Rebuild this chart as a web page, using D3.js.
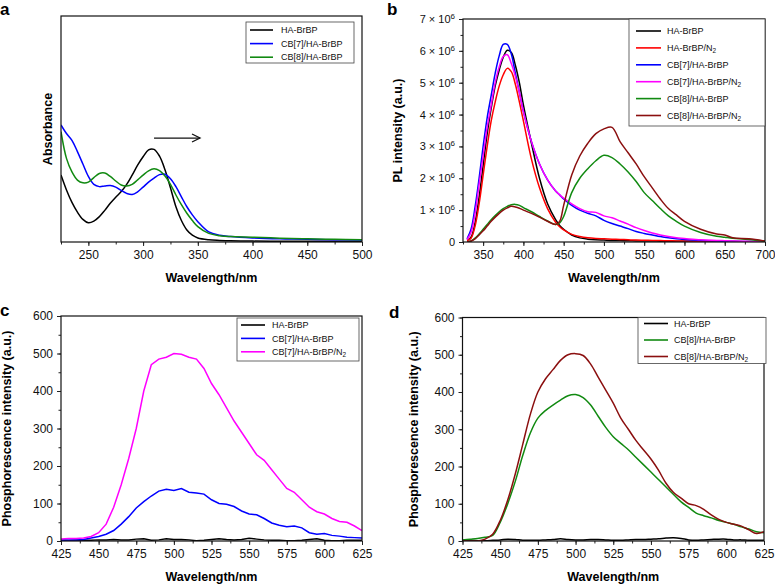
<!DOCTYPE html>
<html><head><meta charset="utf-8">
<script src="https://cdn.jsdelivr.net/npm/d3@7"></script>
<style>
body{margin:0;background:#fff;}
text{font-family:"Liberation Sans",Arial,sans-serif;}
</style></head>
<body><svg id="c" width="775" height="584"></svg>
<script>
// ---------- Panel a: UV-vis absorbance ----------
const aWl = [225,230,235,240,245,250,255,260,265,270,275,280,285,290,295,300,305,310,315,320,325,330,335,340,345,350,360,370,380,400,425,450,475,500];
const aHA = [0.296,0.23,0.175,0.132,0.1,0.085,0.092,0.112,0.14,0.171,0.198,0.223,0.255,0.296,0.34,0.377,0.408,0.41,0.38,0.32,0.24,0.156,0.095,0.053,0.03,0.018,0.01,0.007,0.005,0.004,0.003,0.003,0.003,0.003];
const aCB7 = [0.518,0.48,0.45,0.40,0.345,0.29,0.255,0.245,0.248,0.25,0.243,0.228,0.215,0.21,0.222,0.243,0.265,0.283,0.298,0.3,0.28,0.245,0.2,0.156,0.12,0.09,0.045,0.03,0.024,0.018,0.014,0.012,0.01,0.009];
const aCB8 = [0.488,0.37,0.31,0.274,0.262,0.265,0.285,0.303,0.305,0.29,0.27,0.252,0.248,0.255,0.275,0.296,0.315,0.324,0.316,0.292,0.255,0.208,0.165,0.127,0.095,0.068,0.038,0.028,0.024,0.021,0.017,0.014,0.012,0.01];
const aXTicks = [250,300,350,400,450,500];

// ---------- Panel b: PL intensity (x 10^6) ----------
const bWl = [330,335,340,345,350,355,360,365,370,375,380,385,390,395,400,410,420,430,440,445,450,460,470,480,490,500,510,520,530,540,550,560,570,580,590,600,620,640,650,660,680,700];
const bHA    = [0.05,0.15,0.6,1.4,2.4,3.4,4.2,4.9,5.4,5.8,6.02,5.95,5.55,5.0,4.3,3.1,2.0,1.2,0.7,0.52,0.4,0.22,0.13,0.09,0.07,0.06,0.05,0.045,0.04,0.035,0.03,0.03,0.025,0.025,0.02,0.02,0.015,0.015,0.01,0.01,0.01,0.01];
const bHAN2  = [0.05,0.12,0.5,1.2,2.1,3.0,3.8,4.4,4.9,5.25,5.45,5.35,4.95,4.4,3.8,2.6,1.7,1.05,0.62,0.48,0.38,0.24,0.17,0.13,0.11,0.1,0.09,0.08,0.07,0.06,0.055,0.05,0.045,0.04,0.035,0.03,0.025,0.02,0.02,0.015,0.01,0.01];
const bCB7   = [0.1,0.4,1.1,2.0,3.0,3.9,4.6,5.3,5.85,6.2,6.2,5.9,5.3,4.7,4.1,3.15,2.45,1.95,1.6,1.48,1.35,1.15,1.0,0.9,0.82,0.68,0.58,0.5,0.42,0.33,0.27,0.22,0.17,0.13,0.1,0.08,0.05,0.03,0.025,0.02,0.015,0.01];
const bCB7N2 = [0.08,0.3,0.9,1.8,2.7,3.6,4.3,5.0,5.5,5.82,5.88,5.6,5.2,4.7,4.1,3.15,2.45,1.95,1.6,1.48,1.38,1.2,1.05,0.95,0.93,0.82,0.76,0.66,0.56,0.45,0.36,0.28,0.22,0.17,0.13,0.11,0.07,0.05,0.04,0.03,0.02,0.01];
const bCB8   = [0,0.03,0.12,0.25,0.4,0.55,0.7,0.83,0.95,1.05,1.12,1.17,1.18,1.15,1.08,0.95,0.8,0.66,0.55,0.6,0.8,1.55,2.0,2.3,2.55,2.72,2.65,2.45,2.2,1.9,1.55,1.3,1.05,0.82,0.65,0.5,0.3,0.18,0.15,0.12,0.08,0.02];
const bCB8N2 = [0,0.03,0.1,0.22,0.35,0.5,0.65,0.78,0.9,1.0,1.07,1.12,1.1,1.06,1.0,0.9,0.78,0.65,0.55,0.65,1.15,2.1,2.7,3.1,3.4,3.55,3.6,3.15,2.8,2.45,2.05,1.7,1.35,1.05,0.85,0.65,0.4,0.25,0.22,0.13,0.1,0.03];
const bXTicks = [350,400,450,500,550,600,650,700];
const bYTicks = [0,1,2,3,4,5,6,7];

// ---------- Panel c: phosphorescence, CB[7] ----------
const cWl = [425,430,435,440,445,450,455,460,465,470,475,480,485,490,495,500,505,510,515,520,525,530,535,540,545,550,555,560,565,570,575,580,585,590,595,600,605,610,615,620,625];
const cHA    = [3,1,2,2,2,3,3,4,3,3,5,6,2,3,6,4,4,3,1,2,4,6,4,3,4,7,5,3,2,2,1,1,2,4,6,2,1,1,2,2,2];
const cCB7   = [2,3,3,4,8,12,18,28,45,65,88,105,120,133,138,135,140,130,128,125,110,100,98,92,80,72,70,60,48,42,38,40,35,22,18,20,15,13,10,9,8];
const cCB7N2 = [5,7,7,8,12,22,45,90,150,220,300,400,470,485,490,500,498,490,485,460,420,390,355,320,290,260,230,215,190,165,140,130,110,90,78,72,60,52,50,40,28];
const pXTicks = [425,450,475,500,525,550,575,600,625];
const pYTicks = [0,100,200,300,400,500,600];

// ---------- Panel d: phosphorescence, CB[8] ----------
const dWl = cWl;
const dHA    = [2,2,1,1,2,3,5,4,2,2,2,3,4,6,4,3,3,4,4,3,2,2,3,4,4,5,6,8,9,7,3,2,3,4,5,5,3,3,2,2,2];
const dCB8   = [3,5,7,10,15,50,100,160,230,290,330,350,365,378,390,393,385,365,335,305,280,262,245,225,205,185,165,145,125,105,90,75,68,62,55,50,45,38,32,25,22];
const dCB8N2 = [0,0,0,5,18,55,110,180,260,340,400,435,460,485,500,503,498,475,440,405,370,330,300,270,245,220,190,155,130,115,100,95,85,70,58,50,45,40,30,20,25];

const labelsA = ["HA-BrBP","CB[7]/HA-BrBP","CB[8]/HA-BrBP"];
const labelsB = [["HA-BrBP",""],["HA-BrBP/N","2"],["CB[7]/HA-BrBP",""],["CB[7]/HA-BrBP/N","2"],["CB[8]/HA-BrBP",""],["CB[8]/HA-BrBP/N","2"]];
const labelsC = [["HA-BrBP",""],["CB[7]/HA-BrBP",""],["CB[7]/HA-BrBP/N","2"]];
const labelsD = [["HA-BrBP",""],["CB[8]/HA-BrBP",""],["CB[8]/HA-BrBP/N","2"]];

const COL = {black:"#000000", red:"#ff0000", blue:"#0000ff", magenta:"#ff00ff", green:"#118a11", brown:"#8b0f0f"};

const svg = d3.select("#c");

function panel(o){
  const g = svg.append("g");
  const x = d3.scaleLinear().domain(o.xd).range(o.xr);
  const y = d3.scaleLinear().domain(o.yd).range(o.yr);
  // clip
  const cid = "clip"+o.letter;
  svg.append("clipPath").attr("id",cid).append("rect")
    .attr("x",o.xr[0]).attr("y",o.yr[1]).attr("width",o.xr[1]-o.xr[0]).attr("height",o.yr[0]-o.yr[1]);
  // series
  const line = d3.line().x(d=>x(d[0])).y(d=>y(d[1])).curve(o.curve||d3.curveCatmullRom);
  o.series.forEach(s=>{
    const pts = o.wl.map((w,i)=>[w,s.v[i]]);
    g.append("path").attr("d",line(pts)).attr("fill","none")
      .attr("stroke",s.c).attr("stroke-width",1.5).attr("clip-path","url(#"+cid+")");
  });
  // x axis ticks
  const xAxis = d3.axisBottom(x).tickValues(o.xt).tickSize(4).tickSizeOuter(0).tickPadding(4);
  const gx = g.append("g").attr("transform",`translate(0,${o.yr[0]})`).call(xAxis);
  gx.select(".domain").remove();
  gx.selectAll("text").attr("font-size",12).attr("fill","#111").attr("font-family","Liberation Sans, Arial");
  gx.selectAll("line").attr("stroke","#222");
  const xm = d3.axisBottom(x).tickValues(o.xmt).tickSize(2.5).tickFormat("");
  const gxm = g.append("g").attr("transform",`translate(0,${o.yr[0]})`).call(xm);
  gxm.select(".domain").remove(); gxm.selectAll("line").attr("stroke","#222");
  // y axis
  if(o.yt){
    const yAxis = d3.axisLeft(y).tickValues(o.yt).tickSize(4).tickSizeOuter(0).tickPadding(4);
    if(o.yfmt) yAxis.tickFormat(o.yfmt);
    const gy = g.append("g").attr("transform",`translate(${o.xr[0]},0)`).call(yAxis);
    gy.select(".domain").remove();
    gy.selectAll("line").attr("stroke","#222");
    gy.selectAll("text").attr("font-size",12).attr("fill","#111").attr("font-family","Liberation Sans, Arial");
    if(o.sci){
      gy.selectAll("text").each(function(d){
        const t = d3.select(this); t.text(null).attr("font-size",11);
        if(d===0){ t.text("0"); return; }
        t.append("tspan").text(d+" \u00d7 10");
        t.append("tspan").text("6").attr("font-size",8).attr("dy","-0.5em");
      });
    }
    const ym = d3.axisLeft(y).tickValues(o.ymt).tickSize(2.5).tickFormat("");
    const gym = g.append("g").attr("transform",`translate(${o.xr[0]},0)`).call(ym);
    gym.select(".domain").remove(); gym.selectAll("line").attr("stroke","#222");
  }
  // frame
  g.append("rect").attr("x",o.xr[0]).attr("y",o.yr[1]).attr("width",o.xr[1]-o.xr[0]).attr("height",o.yr[0]-o.yr[1])
    .attr("fill","none").attr("stroke","#111").attr("stroke-width",1.2);
  // axis titles
  g.append("text").attr("x",(o.xr[0]+o.xr[1])/2).attr("y",o.yr[0]+40).attr("text-anchor","middle")
    .attr("font-size",12.5).attr("font-weight","bold").text("Wavelength/nm");
  g.append("text").attr("transform",`translate(${o.ylx},${(o.yr[0]+o.yr[1])/2}) rotate(-90)`)
    .attr("text-anchor","middle").attr("font-size",12.5).attr("font-weight","bold").text(o.ylabel);
  // panel letter
  g.append("text").attr("x",o.lx).attr("y",o.ly).attr("font-size",17).attr("font-weight","bold").text(o.letter);
  // legend
  const L = o.leg;
  g.append("rect").attr("x",L.x).attr("y",L.y).attr("width",L.w).attr("height",L.h)
    .attr("fill","#fff").attr("stroke","#444").attr("stroke-width",0.8);
  o.series.forEach((s,i)=>{
    const yy = L.y + L.first + i*L.step;
    g.append("line").attr("x1",L.x+L.l0).attr("x2",L.x+L.l1).attr("y1",yy).attr("y2",yy)
      .attr("stroke",s.c).attr("stroke-width",1.6);
    const t = g.append("text").attr("x",L.x+L.tx).attr("y",yy+3.2).attr("font-size",9).attr("fill","#111");
    t.append("tspan").text(s.lab[0]);
    if(s.lab[1]) t.append("tspan").text(s.lab[1]).attr("font-size",6.5).attr("dy","0.35em");
  });
  return {g,x,y};
}

// Panel a
const pa = panel({letter:"a", lx:0, ly:15, xd:[225,500], xr:[61,362], yd:[0,1], yr:[242,16],
  xt:aXTicks, xmt:d3.range(225,501,25), wl:aWl, ylabel:"Absorbance", ylx:52,
  series:[{v:aHA,c:COL.black,lab:[labelsA[0],""]},{v:aCB7,c:COL.blue,lab:[labelsA[1],""]},{v:aCB8,c:COL.green,lab:[labelsA[2],""]}],
  leg:{x:246,y:22,w:108,h:41,first:8,step:13.6,l0:4,l1:27,tx:35}});
// arrow
pa.g.append("line").attr("x1",pa.x(310)).attr("x2",pa.x(352)).attr("y1",pa.y(0.46)).attr("y2",pa.y(0.46)).attr("stroke","#111").attr("stroke-width",1.3);
pa.g.append("path").attr("d",`M${pa.x(352)-8},${pa.y(0.46)-4} L${pa.x(352)},${pa.y(0.46)} L${pa.x(352)-8},${pa.y(0.46)+4}`)
  .attr("fill","none").attr("stroke","#111").attr("stroke-width",1.3);

// Panel b
panel({letter:"b", lx:387, ly:15, xd:[325,700], xr:[463,765], yd:[0,7], yr:[242,19],
  xt:bXTicks, xmt:d3.range(325,701,25), yt:bYTicks, ymt:d3.range(0,7.01,0.5), sci:true, wl:bWl,
  ylabel:"PL intensity (a.u.)", ylx:402,
  series:[{v:bHA,c:COL.black,lab:labelsB[0]},{v:bHAN2,c:COL.red,lab:labelsB[1]},{v:bCB7,c:COL.blue,lab:labelsB[2]},
          {v:bCB7N2,c:COL.magenta,lab:labelsB[3]},{v:bCB8,c:COL.green,lab:labelsB[4]},{v:bCB8N2,c:COL.brown,lab:labelsB[5]}],
  leg:{x:629,y:19,w:136,h:107,first:12,step:16.9,l0:7,l1:32,tx:38}});

// Panel c
panel({letter:"c", lx:0, ly:316, xd:[425,625], xr:[61,362], yd:[0,600], yr:[541,316],
  xt:pXTicks, xmt:d3.range(425,626,12.5), yt:pYTicks, ymt:d3.range(0,601,50), wl:cWl, curve:d3.curveLinear,
  ylabel:"Phosphorescence intensity (a.u.)", ylx:11,
  series:[{v:cHA,c:COL.black,lab:labelsC[0]},{v:cCB7,c:COL.blue,lab:labelsC[1]},{v:cCB7N2,c:COL.magenta,lab:labelsC[2]}],
  leg:{x:237,y:318,w:122,h:43,first:7,step:13.4,l0:4,l1:28,tx:35}});

// Panel d
panel({letter:"d", lx:389, ly:318, xd:[425,625], xr:[462.5,764], yd:[0,600], yr:[541,317.5],
  xt:pXTicks, xmt:d3.range(425,626,12.5), yt:pYTicks, ymt:d3.range(0,601,50), wl:dWl,
  ylabel:"Phosphorescence intensity (a.u.)", ylx:418,
  series:[{v:dHA,c:COL.black,lab:labelsD[0]},{v:dCB8,c:COL.green,lab:labelsD[1]},{v:dCB8N2,c:COL.brown,lab:labelsD[2]}],
  leg:{x:638,y:317.5,w:128,h:46,first:6,step:16.5,l0:6,l1:30,tx:36}});
</script>
</body></html>
